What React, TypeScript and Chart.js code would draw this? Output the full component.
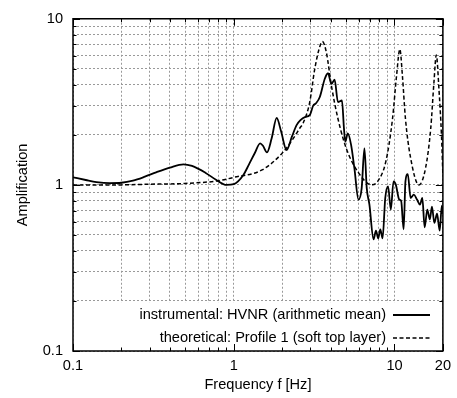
import { useEffect, useRef } from 'react';
import { Chart, registerables } from 'chart.js';

Chart.register(...registerables);

// ---- data ----
const instrumentalFreq = [
  0.1, 0.12, 0.14, 0.169, 0.2, 0.236, 0.28, 0.329, 0.4, 0.487, 0.55, 0.669, 0.78, 0.901, 1.0,
  1.063, 1.15, 1.24, 1.35, 1.46, 1.52, 1.61, 1.72, 1.85, 1.97, 2.13, 2.3, 2.46, 2.6, 2.77, 2.97,
  3.12, 3.25, 3.43, 3.68, 3.86, 4.05, 4.24, 4.45, 4.71, 4.85, 4.94, 5.12, 5.37, 5.63, 5.97, 6.25,
  6.5, 6.72, 6.98, 7.41, 7.67, 7.92, 8.16, 8.43, 8.76, 9.12, 9.49, 9.86, 10.2, 10.7, 11.0, 11.4,
  11.7, 12.1, 12.6, 13.2, 13.8, 14.4, 14.9, 15.4, 16.0, 16.6, 17.1, 17.7, 18.4, 19.1, 19.7, 20,
];
const instrumentalAmp = [
  1.11, 1.07, 1.04, 1.025, 1.03, 1.06, 1.12, 1.19, 1.27, 1.33, 1.3, 1.18, 1.07, 1.0, 1.01,
  1.05, 1.15, 1.32, 1.55, 1.78, 1.72, 1.57, 1.9, 2.53, 2.1, 1.62, 1.95, 2.29, 2.45, 2.56, 2.63,
  3.0, 3.1, 3.38, 4.34, 4.7, 4.05, 4.3, 3.15, 3.22, 2.18, 1.82, 2.04, 1.74, 1.26, 0.816, 0.957,
  1.66, 0.957, 0.762, 0.47, 0.53, 0.477, 0.54, 0.477, 0.834, 0.98, 0.71, 1.05, 1.0, 0.816, 0.8, 0.54,
  1.05, 1.16, 0.834, 0.874, 0.816, 0.76, 0.834, 0.555, 0.71, 0.62, 0.74, 0.59, 0.67, 0.53, 0.75, 0.67,
];
const theoreticalFreq = [
  0.1, 0.2, 0.3, 0.5, 0.81, 1.0, 1.5, 2.0, 2.3, 2.58, 2.7, 2.97, 3.19, 3.4, 3.56, 3.77, 4.05,
  4.45, 5.01, 5.91, 7.2, 7.86, 8.83, 9.72, 10.3, 10.8, 11.2, 11.7, 12.6, 14.2, 15.6, 16.8, 17.6,
  18.2, 18.9, 19.6, 20,
];
const theoreticalAmp = [
  1.0, 1.0, 1.01, 1.02, 1.06, 1.11, 1.23, 1.55, 1.85, 2.2, 2.35, 3.15, 4.98, 6.6, 7.29, 6.26, 3.96,
  2.5, 1.66, 1.2, 1.0, 1.05, 1.38, 2.5, 4.54, 6.56, 4.54, 2.5, 1.45, 1.0, 1.26, 2.18, 4.15,
  6.06, 3.78, 1.99, 1.15,
];

const seriesLabels = [
  'instrumental: HVNR (arithmetic mean)',
  'theoretical: Profile 1 (soft top layer)',
];

const xGridValues = [
  0.1, 0.2, 0.3, 0.4, 0.5, 0.6, 0.7, 0.8, 0.9, 1, 2, 3, 4, 5, 6, 7, 8, 9, 10, 20,
];
const yGridValues = [
  0.1, 0.2, 0.3, 0.4, 0.5, 0.6, 0.7, 0.8, 0.9, 1, 2, 3, 4, 5, 6, 7, 8, 9, 10,
];
const xTickValues = [0.1, 1, 10, 20];
const xTickLabels = ['0.1', '1', '10', '20'];
const yTickValues = [0.1, 1, 10];
const yTickLabels = ['0.1', '1', '10'];

const FONT_FAMILY = '"Liberation Sans", Arial, Helvetica, sans-serif';
const FONT_SIZE = 14.6;

function labelFor(v: number, vals: number[], labels: string[]) {
  for (let i = 0; i < vals.length; i++) {
    if (Math.abs(vals[i] - v) < 1e-9 * Math.max(1, v)) return labels[i];
  }
  return '';
}

const framePlugin = {
  id: 'gnuplotFrame',
  beforeDatasetsDraw(chart: any) {
    const { ctx, chartArea } = chart;
    const y = chart.scales.y;
    const top = y.getPixelForValue(0.2) + 1.5;
    ctx.save();
    ctx.fillStyle = '#fff';
    ctx.fillRect(chartArea.left + 0.5, top, chartArea.right - chartArea.left - 1, chartArea.bottom - top);
    ctx.restore();
  },
  afterDatasetsDraw(chart: any) {
    const { ctx } = chart;
    const y = chart.scales.y;
    const rows = [y.getPixelForValue(0.2) + 13.5, y.getPixelForValue(0.2) + 36.5];
    const textRight = 386;
    ctx.save();
    ctx.font = `${FONT_SIZE}px ${FONT_FAMILY}`;
    ctx.fillStyle = '#000';
    ctx.textAlign = 'right';
    ctx.textBaseline = 'middle';
    chart.data.datasets.forEach((ds: any, i: number) => {
      const ry = rows[i];
      ctx.fillText(ds.label, textRight, ry);
      ctx.beginPath();
      ctx.strokeStyle = ds.borderColor;
      ctx.lineWidth = ds.borderWidth;
      ctx.setLineDash(ds.borderDash || []);
      ctx.moveTo(393, ry + 0.5);
      ctx.lineTo(430, ry + 0.5);
      ctx.stroke();
    });
    ctx.restore();
  },
  afterDraw(chart: any) {
    const { ctx, chartArea } = chart;
    const { left, right, top, bottom } = chartArea;
    const xs = chart.scales.x;
    const ys = chart.scales.y;
    ctx.save();
    ctx.strokeStyle = '#000';
    ctx.lineWidth = 1;
    ctx.setLineDash([]);
    ctx.beginPath();
    xGridValues.forEach((v) => {
      const px = Math.round(xs.getPixelForValue(v)) + 0.5;
      const major = xTickValues.includes(v);
      const len = major ? 7 : 3.5;
      ctx.moveTo(px, bottom);
      ctx.lineTo(px, bottom - len);
      ctx.moveTo(px, top);
      ctx.lineTo(px, top + len);
    });
    yGridValues.forEach((v) => {
      const py = Math.round(ys.getPixelForValue(v)) + 0.5;
      const major = yTickValues.includes(v);
      const len = major ? 7 : 3.5;
      ctx.moveTo(left, py);
      ctx.lineTo(left + len, py);
      ctx.moveTo(right, py);
      ctx.lineTo(right - len, py);
    });
    ctx.stroke();
    ctx.lineWidth = 1.5;
    ctx.strokeRect(left, top, right - left, bottom - top);
    ctx.restore();
  },
};

export default function App() {
  const ref = useRef<HTMLCanvasElement>(null);
  useEffect(() => {
    document.body.style.margin = '0';
    const font = { family: FONT_FAMILY, size: FONT_SIZE };
    const chart = new Chart(ref.current!, {
      type: 'line',
      data: {
        datasets: [
          {
            label: seriesLabels[0],
            data: instrumentalFreq.map((f, i) => ({ x: f, y: instrumentalAmp[i] })),
            borderColor: '#000',
            borderWidth: 1.8,
            pointRadius: 0,
            cubicInterpolationMode: 'monotone',
            fill: false,
          },
          {
            label: seriesLabels[1],
            data: theoreticalFreq.map((f, i) => ({ x: f, y: theoreticalAmp[i] })),
            borderColor: '#000',
            borderWidth: 1.5,
            borderDash: [4, 2.5],
            pointRadius: 0,
            cubicInterpolationMode: 'monotone',
            fill: false,
          },
        ],
      },
      options: {
        responsive: false,
        animation: false,
        layout: { padding: { top: 16, right: 10, left: 0, bottom: 0 } },
        plugins: { legend: { display: false }, tooltip: { enabled: false } },
        scales: {
          x: {
            type: 'logarithmic',
            min: 0.1,
            max: 20,
            afterBuildTicks: (s: any) => {
              s.ticks = xGridValues.map((v) => ({ value: v }));
            },
            afterFit: (s: any) => {
              s.height = 47;
            },
            ticks: {
              autoSkip: false,
              maxRotation: 0,
              padding: 6,
              color: '#000',
              font,
              callback: (v: any) => labelFor(Number(v), xTickValues, xTickLabels),
            },
            grid: { color: '#999', lineWidth: 1, drawTicks: false },
            border: { display: false, dash: [2, 2] },
            title: {
              display: true,
              text: 'Frequency f [Hz]',
              color: '#000',
              font,
              padding: { top: 0, bottom: 4 },
            },
          },
          y: {
            type: 'logarithmic',
            min: 0.1,
            max: 10,
            afterBuildTicks: (s: any) => {
              s.ticks = yGridValues.map((v) => ({ value: v }));
            },
            afterFit: (s: any) => {
              s.width = 73;
            },
            ticks: {
              autoSkip: false,
              padding: 10,
              color: '#000',
              font,
              callback: (v: any) => labelFor(Number(v), yTickValues, yTickLabels),
            },
            grid: { color: '#999', lineWidth: 1, drawTicks: false },
            border: { display: false, dash: [2, 2] },
            title: {
              display: true,
              text: 'Amplification',
              color: '#000',
              font,
              padding: { top: 14, bottom: 0 },
            },
          },
        },
      },
      plugins: [framePlugin],
    } as any);
    return () => chart.destroy();
  }, []);
  return (
    <div style={{ width: 457, height: 398 }}>
      <canvas ref={ref} width={457} height={398} style={{ display: 'block' }} />
    </div>
  );
}
